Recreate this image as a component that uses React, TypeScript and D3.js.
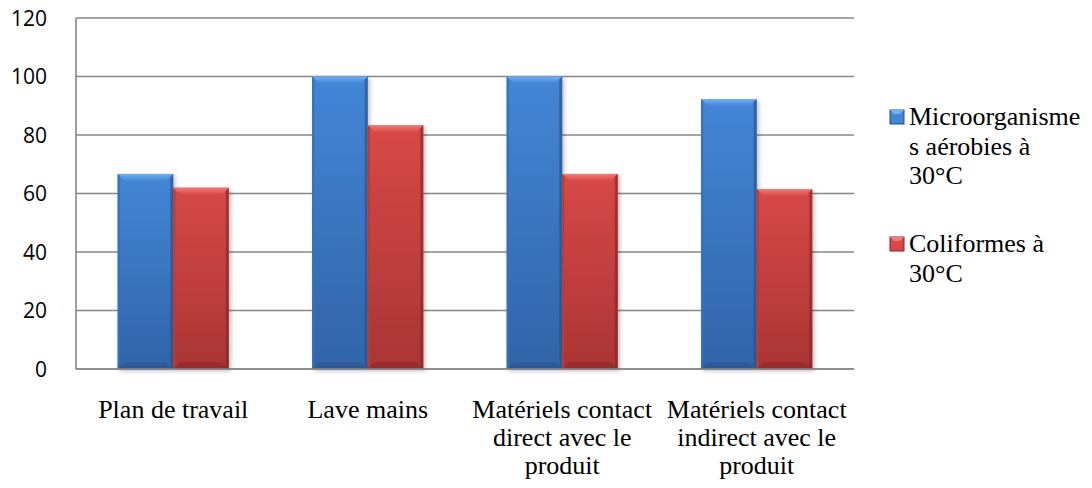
import React from "react";
import * as d3 from "d3";

const categories: string[][] = [
  ["Plan de travail"],
  ["Lave mains"],
  ["Matériels contact", "direct avec le", "produit"],
  ["Matériels contact", "indirect avec le", "produit"],
];
const seriesNames = ["Microorganismes aérobies à 30°C", "Coliformes à 30°C"];
const legendLines: string[][] = [
  ["Microorganisme", "s aérobies à", "30°C"],
  ["Coliformes à", "30°C"],
];
const microValues = [66.7, 100, 100, 92.3];
const coliValues = [62, 83.3, 66.7, 61.5];
const yTicks = [0, 20, 40, 60, 80, 100, 120];

const W = 1092;
const H = 488;
const left = 76;
const right = 854;
const top = 18;
const bottom = 369;

const serif = "Liberation Serif, DejaVu Serif, serif";

const colors = [
  { top: "#4386d6", bottom: "#3164a8", light: "#72b0f2", dark: "#254f88", side: "#3570b8" },
  { top: "#d84848", bottom: "#aa3535", light: "#f27c78", dark: "#832524", side: "#b93b39" },
];

export default function App() {
  const catKeys = categories.map((c) => c.join(" "));
  const x0 = d3.scaleBand<string>().domain(catKeys).range([left, right]).padding(0);
  const bw = x0.bandwidth();
  const gap = bw * (1.5 / 3.5) / 2;
  const x1 = d3.scaleBand<number>().domain([0, 1]).range([gap, bw - gap]).padding(0);
  const y = d3.scaleLinear().domain([0, 120]).range([bottom, top]);
  const values = [microValues, coliValues];
  const bev = 7;

  return (
    <svg width={W} height={H} style={{ display: "block", position: "absolute", left: 0, top: 0 }}>
      <defs>
        {colors.map((c, i) => (
          <linearGradient key={i} id={`g${i}`} x1="0" y1="0" x2="0" y2="1">
            <stop offset="0" stopColor={c.top} />
            <stop offset="1" stopColor={c.bottom} />
          </linearGradient>
        ))}
        {colors.map((c, i) => (
          <linearGradient key={"t" + i} id={`t${i}`} x1="0" y1="0" x2="0" y2="1">
            <stop offset="0" stopColor={c.light} />
            <stop offset="1" stopColor={c.top} />
          </linearGradient>
        ))}
        <filter id="sh" x="-20%" y="-5%" width="140%" height="115%">
          <feDropShadow dx="2" dy="2" stdDeviation="2" floodColor="#000" floodOpacity="0.25" />
        </filter>
      </defs>
      <rect x={0} y={0} width={W} height={H} fill="#fff" />
      {yTicks.map((t) => (
        <g key={t}>
          <line x1={left} x2={right} y1={y(t)} y2={y(t)} stroke="#878787" strokeWidth={1.6} />
          <text
            x={47}
            y={y(t) + 7.5}
            textAnchor="end"
            style={{ fontFamily: "Open Sans, Liberation Sans, sans-serif", fontSize: "21px" }}
            fill="#000"
          >
            {t}
          </text>
        </g>
      ))}
      <line x1={left} x2={left} y1={top} y2={bottom} stroke="#878787" strokeWidth={1.6} />
      {catKeys.map((k, ci) =>
        values.map((vals, si) => {
          const bx = (x0(k) as number) + (x1(si) as number);
          const w = x1.bandwidth();
          const by = y(vals[ci]);
          const h = y(0) - by;
          const c = colors[si];
          return (
            <g key={k + si}>
              <rect x={bx} y={by} width={w} height={h} fill={`url(#g${si})`} filter="url(#sh)" />
              <polygon
                points={`${bx},${by} ${bx + w},${by} ${bx + w - bev},${by + bev} ${bx + bev},${by + bev}`}
                fill={`url(#t${si})`}
              />
              <polygon
                points={`${bx},${by} ${bx + 2},${by + 2} ${bx + 2},${by + h - 2} ${bx},${by + h}`}
                fill={c.side}
              />
              <polygon
                points={`${bx + w},${by} ${bx + w - 3},${by + 3} ${bx + w - 3},${by + h - 3} ${bx + w},${by + h}`}
                fill={c.dark}
                opacity={0.6}
              />
              <polygon
                points={`${bx},${by + h} ${bx + bev},${by + h - bev} ${bx + w - bev},${by + h - bev} ${bx + w},${by + h}`}
                fill={c.dark}
                opacity={0.5}
              />
            </g>
          );
        })
      )}
      <line x1={left} x2={right} y1={y(0)} y2={y(0)} stroke="#878787" strokeWidth={1.6} />
      {categories.map((lines, ci) => {
        const cx = (x0(catKeys[ci]) as number) + bw / 2;
        return (
          <text
            key={ci}
            x={cx}
            textAnchor="middle"
            style={{ fontFamily: serif, fontSize: "26px" }}
            fill="#000"
          >
            {lines.map((l, li) => (
              <tspan key={li} x={cx} y={418 + li * 28}>
                {l}
              </tspan>
            ))}
          </text>
        );
      })}
      {legendLines.map((lines, si) => {
        const ly = si === 0 ? 125 : 252;
        const c = colors[si];
        return (
          <g key={si}>
            <title>{seriesNames[si]}</title>
            <rect x={890} y={ly - 15} width={14} height={14} fill={c.top} stroke={c.dark} strokeWidth={1} />
            <polygon
              points={`890,${ly - 15} 904,${ly - 15} 900,${ly - 11} 894,${ly - 11}`}
              fill={c.light}
            />
            <text style={{ fontFamily: serif, fontSize: "26px" }} fill="#000">
              {lines.map((l, li) => (
                <tspan key={li} x={909} y={ly + li * 29.5}>
                  {l}
                </tspan>
              ))}
            </text>
          </g>
        );
      })}
    </svg>
  );
}
